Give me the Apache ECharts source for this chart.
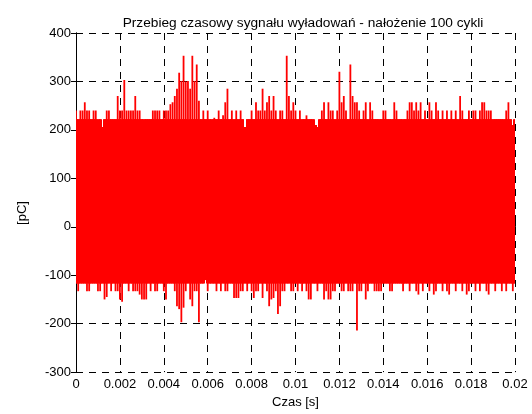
<!DOCTYPE html>
<html>
<head>
<meta charset="utf-8">
<script src="https://cdn.jsdelivr.net/npm/echarts@6/dist/echarts.min.js"></script>
<style>
  html, body { margin: 0; padding: 0; background: #fff; }
  #chart { width: 532px; height: 414px; }
</style>
</head>
<body>
<div id="chart"></div>
<script>
// Envelope of 100 overlaid discharge cycles, sampled in 0.1 ms bins (0 .. 20 ms)
const binStep = 0.0001;

// Upper envelope of each bin [pC]
const upperPeak = [
  240, 222, 240, 240, 257, 240, 240, 222, 240, 240,
  222, 222, 206, 222, 240, 240, 222, 222, 222, 270,
  240, 240, 303, 240, 240, 240, 240, 270, 240, 240,
  222, 222, 222, 222, 222, 240, 240, 240, 240, 222,
  240, 240, 240, 253, 257, 270, 285, 318, 301, 353,
  300, 301, 285, 353, 301, 335, 260, 222, 240, 222,
  240, 222, 222, 225, 222, 240, 222, 230, 257, 285,
  222, 240, 222, 240, 222, 240, 222, 206, 222, 222,
  240, 222, 257, 240, 240, 285, 240, 257, 270, 240,
  270, 240, 222, 240, 240, 222, 353, 270, 240, 257,
  240, 222, 240, 222, 222, 230, 222, 222, 222, 210,
  206, 222, 240, 257, 222, 257, 240, 240, 222, 240,
  320, 257, 270, 240, 222, 335, 270, 257, 257, 240,
  222, 240, 257, 222, 257, 240, 222, 222, 222, 222,
  240, 240, 222, 222, 222, 257, 240, 222, 222, 222,
  222, 240, 257, 257, 240, 257, 240, 257, 222, 240,
  222, 257, 240, 222, 257, 240, 222, 240, 222, 240,
  222, 240, 222, 240, 222, 270, 240, 222, 222, 240,
  222, 240, 240, 222, 240, 257, 257, 240, 240, 240,
  222, 222, 222, 222, 222, 222, 240, 257, 222, 210,
  222
];

// Lower envelope of each bin [pC]
const lowerPeak = [
  -117, -133, -117, -117, -117, -133, -133, -117, -117, -117,
  -133, -133, -117, -150, -145, -117, -133, -117, -133, -133,
  -150, -155, -117, -117, -133, -117, -133, -133, -133, -140,
  -150, -150, -150, -117, -133, -117, -133, -133, -117, -117,
  -133, -150, -117, -117, -117, -133, -164, -170, -197, -167,
  -133, -117, -150, -164, -133, -133, -197, -117, -117, -110,
  -133, -117, -117, -117, -133, -117, -133, -117, -133, -133,
  -117, -117, -147, -147, -147, -133, -133, -117, -133, -117,
  -133, -147, -133, -133, -117, -147, -117, -133, -164, -150,
  -147, -133, -180, -164, -133, -133, -117, -117, -133, -133,
  -117, -133, -117, -133, -117, -133, -150, -150, -117, -117,
  -133, -117, -117, -150, -133, -150, -150, -133, -133, -117,
  -117, -133, -133, -117, -133, -133, -133, -117, -214, -133,
  -133, -117, -150, -133, -117, -117, -133, -133, -133, -133,
  -117, -117, -117, -133, -133, -117, -117, -117, -117, -133,
  -117, -117, -133, -117, -117, -133, -140, -117, -133, -117,
  -117, -133, -117, -140, -133, -117, -117, -133, -117, -133,
  -140, -117, -117, -133, -117, -117, -133, -117, -140, -133,
  -117, -117, -133, -117, -133, -117, -117, -133, -140, -117,
  -117, -133, -117, -117, -133, -117, -133, -117, -117, -133,
  -117
];

const xTicks = [0, 0.002, 0.004, 0.006, 0.008, 0.01, 0.012, 0.014, 0.016, 0.018, 0.02];
const yTicks = [-300, -200, -100, 0, 100, 200, 300, 400];

const titleText = 'Przebieg czasowy sygnału wyładowań - nałożenie 100 cykli';
const xName = 'Czas [s]';
const yName = '[pC]';

// dense band of overlapping pulses; anything beyond it is drawn as a thin spike
const bandTop = 222;
const bandBottom = -117;

const envelope = upperPeak.map((hi, i) => [i * binStep, lowerPeak[i], hi]);

const FONT = 'Liberation Sans, Arial, sans-serif';
const gridDash = { color: '#000', width: 1, type: [7, 6] };
const fmtX = v => String(parseFloat(v.toFixed(3)));

const chart = echarts.init(document.getElementById('chart'), null, { renderer: 'canvas' });

const option = {
  animation: false,
  backgroundColor: '#fff',
  title: {
    text: titleText,
    left: 298,
    top: 11,
    textAlign: 'center',
    textStyle: { fontFamily: FONT, fontSize: 13.7, fontWeight: 'normal', color: '#000' }
  },
  grid: { left: 76, right: 17, top: 33, bottom: 35, containLabel: false },
  xAxis: [
    {
      type: 'value', min: xTicks[0], max: xTicks[xTicks.length - 1], interval: 0.002,
      name: xName, nameLocation: 'middle', nameGap: 22,
      nameTextStyle: { fontFamily: FONT, fontSize: 13, color: '#000' },
      axisLine: { show: true, lineStyle: { color: '#000', width: 1 } },
      axisTick: { show: true, inside: true, length: 5, lineStyle: { color: '#000' } },
      axisLabel: { fontFamily: FONT, fontSize: 13, color: '#000', margin: 6, formatter: fmtX },
      splitLine: { show: true, lineStyle: gridDash }
    },
    {
      type: 'value', position: 'top', min: xTicks[0], max: xTicks[xTicks.length - 1], interval: 0.002,
      axisLine: { show: true, lineStyle: { color: '#000', width: 1 } },
      axisTick: { show: true, inside: true, length: 5, lineStyle: { color: '#000' } },
      axisLabel: { show: false },
      splitLine: { show: false }
    }
  ],
  yAxis: [
    {
      type: 'value', min: yTicks[0], max: yTicks[yTicks.length - 1], interval: 100,
      axisLine: { show: true, lineStyle: { color: '#000', width: 1 } },
      axisTick: { show: true, inside: true, length: 5, lineStyle: { color: '#000' } },
      axisLabel: { fontFamily: FONT, fontSize: 13, color: '#000', margin: 5 },
      splitLine: { show: true, lineStyle: gridDash }
    },
    {
      type: 'value', position: 'right', min: yTicks[0], max: yTicks[yTicks.length - 1], interval: 100,
      axisLine: { show: true, lineStyle: { color: '#000', width: 1 } },
      axisTick: { show: true, inside: true, length: 5, lineStyle: { color: '#000' } },
      axisLabel: { show: false },
      splitLine: { show: false }
    }
  ],
  graphic: [
    {
      type: 'text', x: 22, y: 213, rotation: Math.PI / 2,
      style: {
        text: yName, fontFamily: FONT, fontSize: 13, fill: '#000',
        textAlign: 'center', textVerticalAlign: 'middle'
      }
    }
  ],
  series: [
    {
      type: 'custom',
      xAxisIndex: 0, yAxisIndex: 0,
      clip: true,
      silent: true,
      data: envelope,
      encode: { x: 0, y: [1, 2] },
      renderItem: (params, api) => {
        const t = api.value(0);
        const lo = api.value(1);
        const hi = api.value(2);
        const left = Math.floor(api.coord([t - binStep / 2, 0])[0]);
        const right = Math.ceil(api.coord([t + binStep / 2, 0])[0]);
        const mid = api.coord([t, 0])[0];
        const yHi = api.coord([t, hi])[1];
        const yLo = api.coord([t, lo])[1];
        const yBandHi = api.coord([t, Math.min(hi, bandTop)])[1];
        const yBandLo = api.coord([t, Math.max(lo, bandBottom)])[1];
        const red = { fill: '#ff0000' };
        return {
          type: 'group',
          children: [
            {
              type: 'rect',
              shape: { x: left, y: yBandHi, width: right - left, height: yBandLo - yBandHi },
              style: red
            },
            {
              type: 'rect',
              shape: { x: mid - 0.9, y: yHi, width: 1.8, height: yLo - yHi },
              style: red
            }
          ]
        };
      }
    }
  ]
};

chart.setOption(option);
</script>
</body>
</html>
